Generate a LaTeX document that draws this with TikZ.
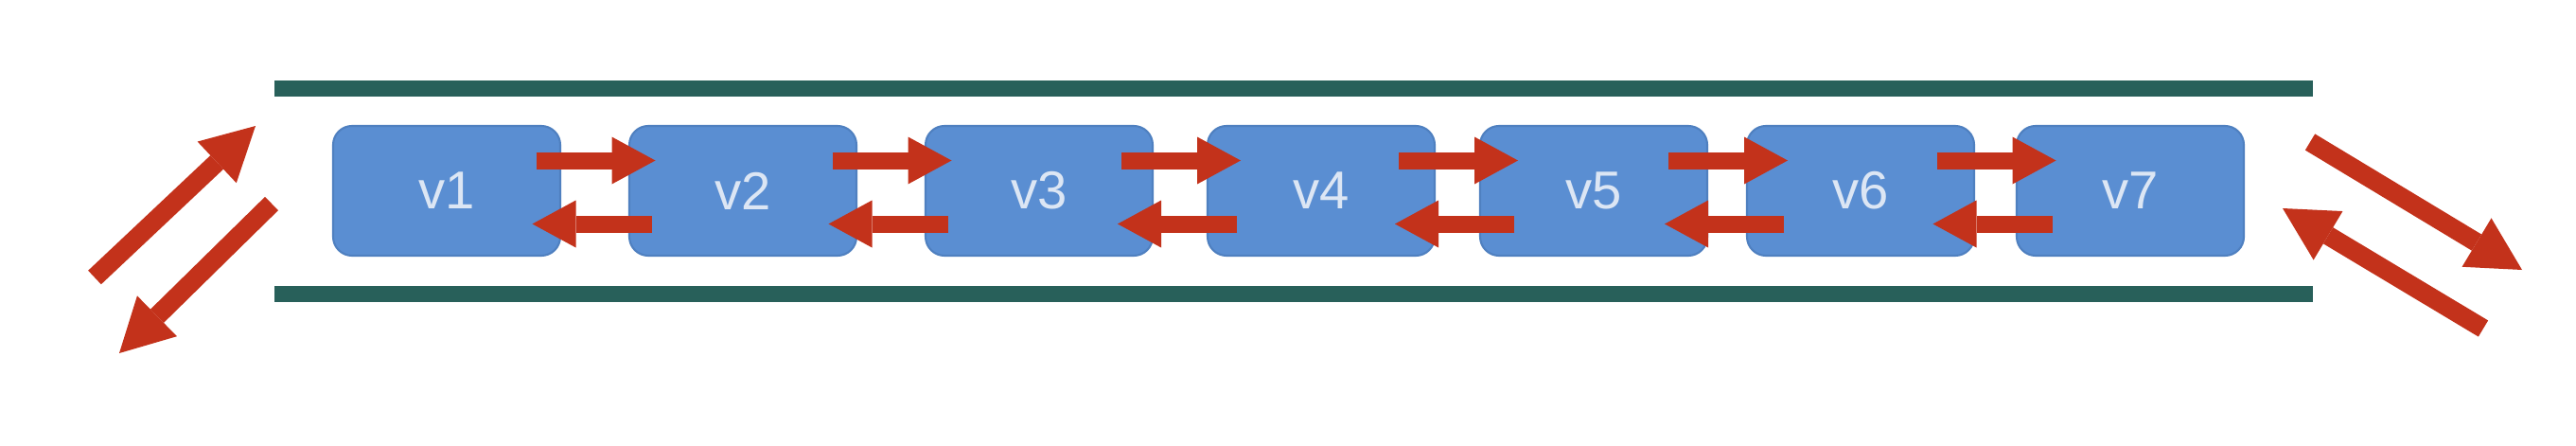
\documentclass[tikz,border=0pt]{standalone}
\usepackage{fontspec}
\setmainfont{Liberation Sans}
\usetikzlibrary{arrows.meta,calc}
\definecolor{vbox}{HTML}{5A8ED2}
\definecolor{vedge}{HTML}{4F80C0}
\definecolor{vtext}{HTML}{DCE6F4}
\definecolor{rail}{HTML}{28605A}
\definecolor{flowred}{HTML}{C3321B}
\tikzset{
  vnode/.style={draw=vedge,line width=0.6pt,fill=vbox,rounded corners=2mm,
    minimum width=2.4cm,minimum height=1.37cm,inner sep=0pt,
    text=vtext,font=\fontsize{16}{16}\selectfont},
  railline/.style={draw=rail,line width=1.7mm},
  flow/.style={draw=flowred,line width=1.8mm,
    -{Triangle[width=5mm,length=4.6mm,line width=0pt,fill=flowred]}},
  bigflow/.style={draw=flowred,line width=2mm,
    -{Triangle[width=6mm,length=5.6mm,line width=0pt,fill=flowred]}}
}
\begin{document}
\begin{tikzpicture}
% vertices on a line, messages passed both ways
\useasboundingbox (0,0) rectangle (27.22,4.70);
\draw[railline] (2.90,3.77) -- (24.44,3.77);
\draw[railline] (2.90,1.60) -- (24.44,1.60);
\node[vnode] (v1) at (4.72,2.685) {v1};
\node[vnode] (v2) at (7.85,2.685) {v2};
\node[vnode] (v3) at (10.98,2.685) {v3};
\node[vnode] (v4) at (13.96,2.685) {v4};
\node[vnode] (v5) at (16.84,2.685) {v5};
\node[vnode] (v6) at (19.66,2.685) {v6};
\node[vnode] (v7) at (22.51,2.685) {v7};
\foreach \a/\b in {v1/v2,v2/v3,v3/v4,v4/v5,v5/v6,v6/v7}{
  \coordinate (m) at ($(\a.east)!.5!(\b.west)$);
  \draw[flow] ($(m)+(-0.62,0.32)$) -- ($(m)+(0.64,0.32)$);
  \draw[flow] ($(m)+(0.60,-0.35)$) -- ($(m)+(-0.66,-0.35)$);
}
% traffic in and out at both ends
\coordinate (inLa) at (1.00,1.77);
\coordinate (inLb) at (2.70,3.37);
\coordinate (outLa) at (2.87,2.55);
\coordinate (outLb) at (1.26,0.97);
\coordinate (outRa) at (24.41,3.20);
\coordinate (outRb) at (26.65,1.85);
\coordinate (inRa) at (26.24,1.23);
\coordinate (inRb) at (24.12,2.50);
\draw[bigflow] (inLa) -- (inLb);
\draw[bigflow] (outLa) -- (outLb);
\draw[bigflow] (outRa) -- (outRb);
\draw[bigflow] (inRa) -- (inRb);
\end{tikzpicture}
\end{document}
